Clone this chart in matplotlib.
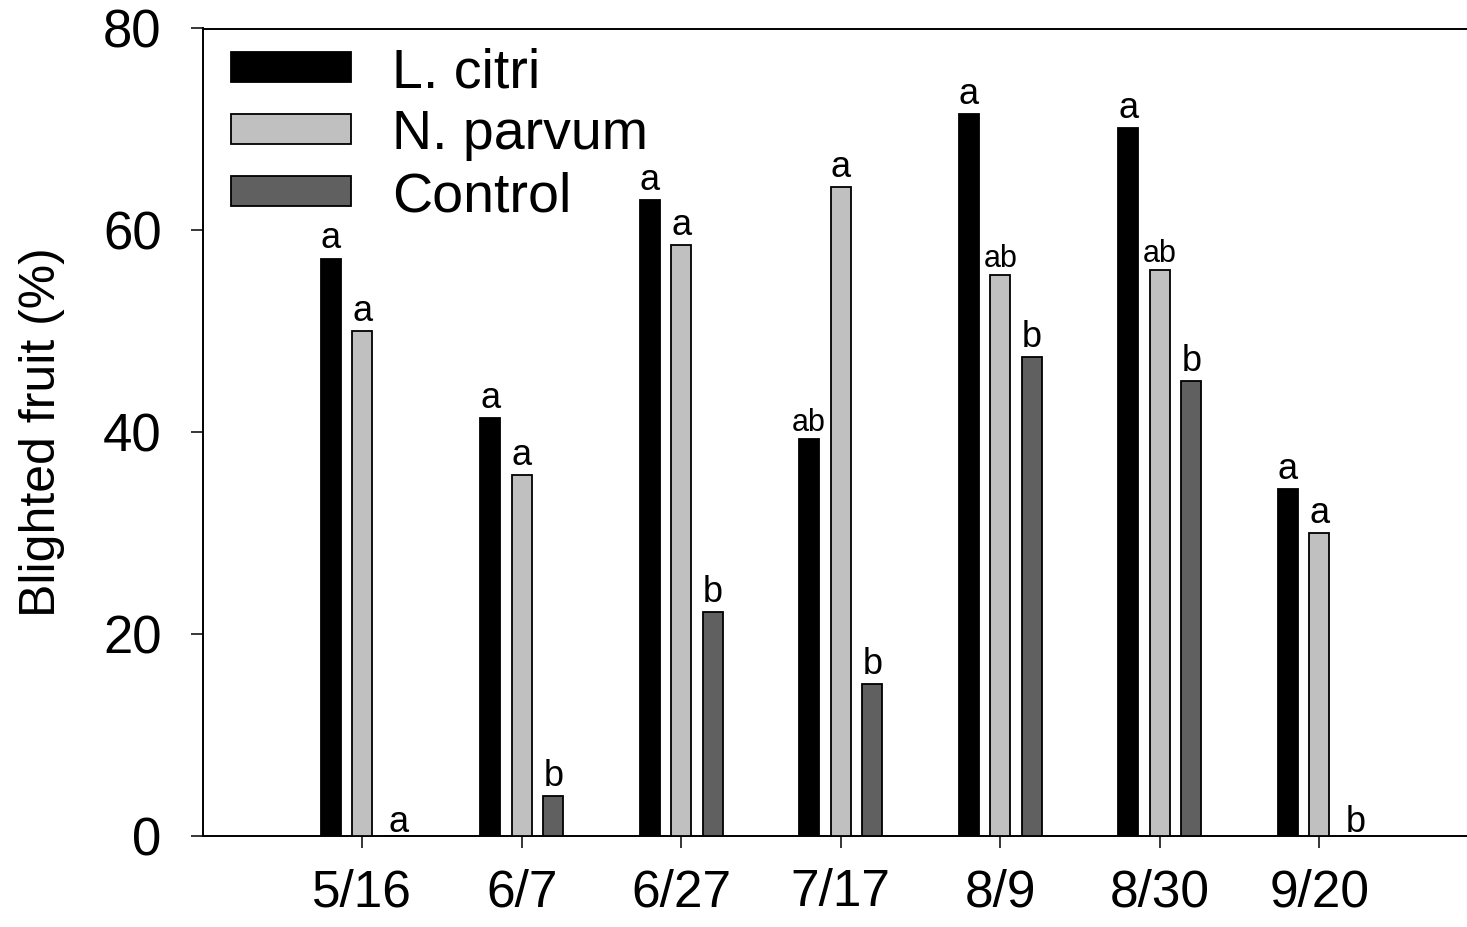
import matplotlib
matplotlib.use("Agg")
import matplotlib.pyplot as plt
import numpy as np

dates = ["5/16", "6/7", "6/27", "7/17", "8/9", "8/30", "9/20"]
series_names = ["L. citri", "N. parvum", "Control"]
l_citri = [57.2, 41.4, 63.0, 39.3, 71.5, 70.1, 34.4]
n_parvum = [50.0, 35.7, 58.5, 64.3, 55.6, 56.1, 30.0]
control = [0.0, 3.9, 22.2, 15.0, 47.4, 45.1, 0.0]
letters_l = ["a", "a", "a", "ab", "a", "a", "a"]
letters_n = ["a", "a", "a", "a", "ab", "ab", "a"]
letters_c = ["a", "b", "b", "b", "b", "b", "b"]
y_ticks = [0, 20, 40, 60, 80]

colors = ["#000000", "#c0c0c0", "#606060"]

plt.rcParams['font.family'] = ['Liberation Sans', 'DejaVu Sans']

fig = plt.figure(figsize=(14.67, 9.27), dpi=100)
ax = fig.add_axes([202.7 / 1467, (927 - 835.7) / 927, 1 - 202.7 / 1467, (835.7 - 28.5) / 927])

x = np.arange(len(dates))
width = 0.125
offsets = [-0.198, 0.0, 0.198]
all_vals = [l_citri, n_parvum, control]
all_letters = [letters_l, letters_n, letters_c]
for vals, off, col, name, lets in zip(all_vals, offsets, colors, series_names, all_letters):
    ax.bar(x + off, vals, width=width, color=col, edgecolor="black",
           linewidth=1.3, label=name, zorder=3)
    for xi, v, t in zip(x, vals, lets):
        fs = 22 if len(t) > 1 else 26
        if v == 0:
            xo, yo = xi + off + 0.03, 0.35
        else:
            xo, yo = xi + off, (0.8 if len(t) > 1 else 1.0)
        ax.text(xo, v + yo, t, ha="center", va="baseline", fontsize=fs, zorder=4)

ax.set_xlim(-1.0, (1467 - 362.3) / 159.5)
ax.set_ylim(0, 80)
ax.set_yticks(y_ticks)
ax.set_xticks(x)
ax.set_xticklabels(dates)
ax.tick_params(axis="both", direction="out", length=8.6, width=1.1)
ax.tick_params(axis="y", pad=21, labelsize=38)
ax.tick_params(axis="x", pad=15, labelsize=37)
ax.spines["right"].set_visible(False)
for s in ["left", "bottom", "top"]:
    ax.spines[s].set_linewidth(1.4)

ax.set_ylabel("Blighted fruit (%)", fontsize=36)
ax.yaxis.set_label_coords(-0.109, 0.5)

leg = ax.legend(loc="upper left", bbox_to_anchor=(28 / 1264.3, 0.977), frameon=False,
                fontsize=40, handlelength=2.16, handleheight=0.45, handletextpad=0.75,
                labelspacing=0.18, borderpad=0, borderaxespad=0)

fig.savefig("out.png", dpi=100)
